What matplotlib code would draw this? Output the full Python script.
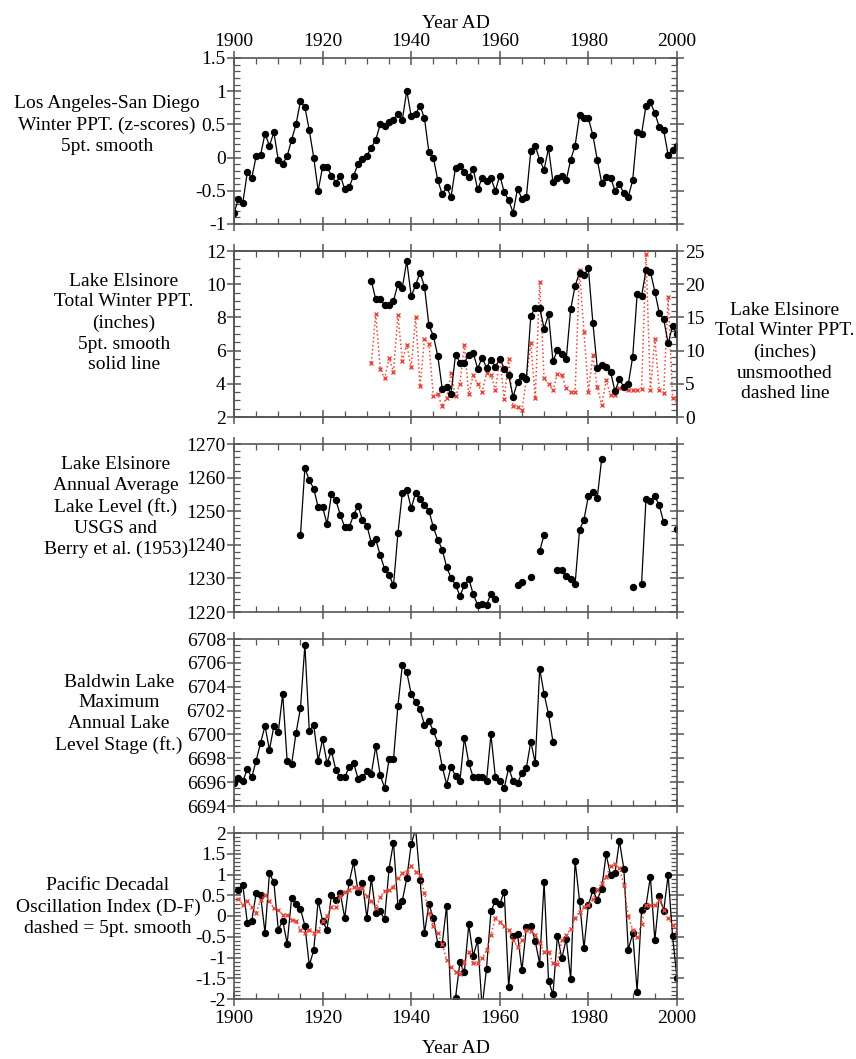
import numpy as np
import matplotlib
matplotlib.use("Agg")
import matplotlib.pyplot as plt
from matplotlib.ticker import MultipleLocator, FuncFormatter

plt.rcParams['font.family'] = ['Liberation Serif', 'DejaVu Serif']
plt.rcParams['axes.unicode_minus'] = False

# ---- data ----
years_la = np.arange(1900, 2001)
la_sd_z = [-0.84, -0.62, -0.68, -0.22, -0.31, 0.02, 0.04, 0.36, 0.18, 0.38,
           -0.04, -0.09, 0.02, 0.27, 0.5, 0.85, 0.76, 0.41, 0.0, -0.5,
           -0.14, -0.14, -0.27, -0.38, -0.27, -0.48, -0.45, -0.27, -0.1, -0.02,
           0.03, 0.15, 0.27, 0.5, 0.47, 0.53, 0.57, 0.66, 0.57, 1.01,
           0.62, 0.66, 0.78, 0.59, 0.08, 0.0, -0.34, -0.55, -0.45, -0.59,
           -0.15, -0.13, -0.22, -0.29, -0.17, -0.48, -0.31, -0.35, -0.31, -0.5,
           -0.27, -0.52, -0.64, -0.83, -0.47, -0.62, -0.59, 0.1, 0.18, -0.04,
           -0.18, 0.14, -0.37, -0.3, -0.28, -0.34, -0.03, 0.18, 0.64, 0.6,
           0.59, 0.34, -0.03, -0.38, -0.29, -0.3, -0.5, -0.4, -0.54, -0.59,
           -0.34, 0.39, 0.36, 0.78, 0.83, 0.67, 0.46, 0.41, 0.04, 0.11,
           0.18]

years_els = np.arange(1931, 2001)
els_smooth = [10.21, 9.08, 9.08, 8.74, 8.74, 9.0, 10.0, 9.79, 11.4, 9.28,
              9.95, 10.7, 9.85, 7.53, 6.89, 5.68, 3.71, 3.81, 3.41, 5.76,
              5.28, 5.28, 5.76, 5.86, 4.92, 5.56, 4.98, 5.46, 5.02, 5.52,
              4.92, 4.52, 3.21, 4.11, 4.47, 4.27, 8.1, 8.58, 8.58, 7.33,
              8.18, 5.36, 6.02, 5.82, 5.48, 8.5, 9.9, 10.7, 10.55, 10.95,
              7.69, 4.98, 5.12, 5.02, 4.72, 3.55, 4.27, 3.81, 3.97, 5.62,
              9.38, 9.28, 10.85, 10.75, 9.55, 8.28, 7.88, 6.43, 7.49, 6.97]
els_raw = [8.2, 15.5, 7.3, 5.8, 8.9, 6.8, 15.3, 8.5, 10.9, 7.5,
           15.1, 4.6, 11.8, 11.0, 3.1, 3.4, 1.6, 2.9, 6.6, 3.1,
           5.0, 10.9, 3.4, 6.4, 4.9, 3.8, 6.6, 6.4, 4.0, 8.8,
           2.7, 8.7, 1.7, 1.5, 1.0, 5.8, 11.1, 2.8, 20.4, 5.8,
           5.0, 4.0, 6.5, 6.3, 4.3, 3.8, 3.8, 22.1, 12.8, 3.8,
           9.3, 4.5, 1.8, 5.5, 3.3, 3.3, 4.3, 4.5, 4.0, 4.0,
           4.0, 4.2, 24.6, 4.0, 11.8, 4.0, 3.6, 18.1, 2.8, 2.5]

nan = np.nan
years_lvl = np.arange(1915, 2001)
els_level = [1242.9, 1262.8, 1259.2, 1256.7, 1251.2, 1251.2, 1246.2, 1255.0, 1253.2, 1248.9,
             1245.2, 1245.2, 1248.9, 1251.6, 1247.4, 1245.7, 1240.6, 1241.6, 1236.9, 1232.8,
             1231.1, 1227.9, 1243.4, 1255.5, 1256.4, 1250.9, 1255.4, 1253.5, 1251.7, 1250.2,
             1245.2, 1241.5, 1238.6, 1233.4, 1230.1, 1228.1, 1224.8, 1227.9, 1229.9, 1225.3,
             1222.1, 1222.4, 1222.1, 1225.4, 1223.9, nan, nan, nan, nan, 1227.9,
             1228.9, nan, 1230.4, nan, 1238.1, 1243.0, nan, nan, 1232.6, 1232.6,
             1230.8, 1229.8, 1228.4, 1244.4, 1247.5, 1254.5, 1255.7, 1254.0, 1265.6, nan,
             nan, nan, nan, nan, nan, 1227.4, nan, 1228.4, 1253.7, 1253.0,
             1254.4, 1251.7, 1246.7, nan, nan, 1244.7]

years_bal = np.arange(1900, 1973)
baldwin = [6695.94, 6696.36, 6696.08, 6697.1, 6696.4, 6697.8, 6699.3, 6700.7, 6698.7, 6700.7,
           6700.2, 6703.4, 6697.75, 6697.5, 6700.1, 6702.2, 6707.5, 6700.3, 6700.8, 6697.8,
           6699.6, 6697.6, 6698.6, 6697.0, 6696.4, 6696.4, 6697.3, 6697.6, 6696.3, 6696.4,
           6696.9, 6696.7, 6699.0, 6696.6, 6695.5, 6697.9, 6697.9, 6702.4, 6705.8, 6705.2,
           6703.4, 6702.7, 6702.1, 6700.8, 6701.1, 6700.3, 6699.3, 6697.3, 6695.8, 6697.3,
           6696.5, 6696.1, 6699.7, 6697.6, 6696.4, 6696.4, 6696.4, 6696.1, 6700.0, 6696.4,
           6696.1, 6695.5, 6697.2, 6696.1, 6695.9, 6696.8, 6697.2, 6699.4, 6697.6, 6705.5,
           6703.4, 6701.7, 6699.4]

years_pdo = np.arange(1901, 2001)
pdo = [0.62, 0.74, -0.16, -0.12, 0.55, 0.5, -0.41, 1.03, 0.81, -0.33,
       -0.11, -0.67, 0.43, 0.29, 0.17, -0.23, -1.19, -0.82, 0.37, -0.12,
       -0.33, 0.51, 0.39, 0.55, -0.05, 0.82, 1.29, 0.59, 0.79, -0.05,
       0.91, 0.07, 0.11, -0.08, 1.14, 1.77, 0.25, 0.37, 0.91, 1.73,
       2.1, 0.87, -0.41, 0.29, -0.05, -0.67, -0.67, 0.25, -2.1, -1.97,
       -1.12, -1.36, -0.2, -0.96, -0.59, -2.2, -1.27, 0.11, 0.37, 0.29,
       0.59, -1.72, -0.48, -0.44, -1.31, -0.27, -0.24, -0.61, -1.15, 0.82,
       -1.56, -1.89, -0.48, -1.02, -0.55, -1.52, 1.33, 0.37, -0.78, 0.27,
       0.62, 0.39, 0.66, 1.49, 0.99, 1.03, 1.81, 1.14, -0.82, -0.41,
       -1.82, 0.15, 0.25, 0.95, -0.59, 0.49, 0.13, 0.99, -0.49, -1.5]
pdo_smooth = [0.42, 0.27, 0.35, 0.21, 0.07, 0.39, 0.51, 0.35, 0.19, 0.15,
              0.03, 0.03, -0.09, -0.13, -0.33, -0.41, -0.33, -0.41, -0.37, -0.13,
              -0.01, 0.21, 0.21, 0.47, 0.59, 0.63, 0.71, 0.67, 0.67, 0.47,
              0.35, 0.19, 0.46, 0.61, 0.63, 0.71, 0.91, 1.03, 1.07, 1.2,
              1.07, 0.99, 0.55, 0.07, -0.25, -0.41, -0.67, -1.06, -1.22, -1.34,
              -1.39, -1.10, -0.86, -1.14, -1.14, -1.02, -0.82, -0.45, -0.05, -0.15,
              -0.25, -0.33, -0.57, -0.75, -0.57, -0.33, -0.35, -0.45, -0.65, -0.86,
              -0.86, -1.14, -1.15, -0.57, -0.45, -0.32, -0.05, 0.1, 0.21, 0.27,
              0.41, 0.63, 0.79, 0.95, 1.2, 1.25, 1.15, 0.75, -0.01, -0.33,
              -0.51, -0.19, 0.27, 0.27, 0.27, 0.39, 0.15, -0.05, -0.21, -0.4]

# ---- figure ----
W, H = 856, 1059
fig = plt.figure(figsize=(W / 100, H / 100), dpi=100)
FS = 14      # side labels
TS = 14      # tick labels
AXC = '#555555'
RED = '#e5483c'


def box(top, bottom):
    return [234 / W, 1 - bottom / H, 443 / W, (bottom - top) / H]


def fmt(v, pos):
    return '%g' % v


def style(ax, lo, hi, major, minor, right=True):
    ax.set_xlim(1900, 2000)
    ax.set_ylim(lo, hi)
    ax.xaxis.set_major_locator(MultipleLocator(20))
    ax.xaxis.set_minor_locator(MultipleLocator(5))
    ax.yaxis.set_major_locator(MultipleLocator(major))
    ax.yaxis.set_minor_locator(MultipleLocator(minor))
    ax.yaxis.set_major_formatter(FuncFormatter(fmt))
    ax.tick_params(which='major', direction='inout', length=10, width=1.1,
                   top=True, right=right, labelbottom=False, color=AXC,
                   labelsize=TS, pad=1)
    ax.tick_params(which='minor', direction='in', length=4, width=0.9,
                   top=True, right=right, color=AXC)
    ax.tick_params(axis='x', which='major', pad=1)
    for s in ax.spines.values():
        s.set_color(AXC)
        s.set_linewidth(1.2)


def black(ax, x, y):
    ax.plot(x, y, '-o', color='black', lw=0.9, ms=4.3)


def redline(ax, x, y):
    ax.plot(x, y, linestyle=':', marker='x', color=RED, lw=1.1, ms=3.5, mew=1.0)


def label(x, y, s):
    fig.text(x / W, 1 - y / H, s, ha='center', va='center', fontsize=FS,
             multialignment='center', linespacing=1.3)


# panel 1
ax1 = fig.add_axes(box(58, 224))
style(ax1, -1, 1.5, 0.5, 0.1)
black(ax1, years_la, la_sd_z)
ax1.tick_params(labeltop=True)
ax1.xaxis.set_label_position('top')
ax1.set_xlabel('Year AD', fontsize=TS, labelpad=3)
label(107, 125, 'Los Angeles-San Diego\nWinter PPT. (z-scores)\n5pt. smooth')

# panel 2
ax2 = fig.add_axes(box(251, 417))
style(ax2, 2, 12, 2, 0.5, right=False)
ax2r = ax2.twinx()
ax2r.set_ylim(0, 25)
ax2r.yaxis.set_major_locator(MultipleLocator(5))
ax2r.yaxis.set_minor_locator(MultipleLocator(1))
ax2r.tick_params(which='major', direction='inout', length=10, width=1.1,
                 color=AXC, labelsize=TS, pad=1)
ax2r.tick_params(which='minor', direction='in', length=4, width=0.9, color=AXC)
for s in ax2r.spines.values():
    s.set_color(AXC)
    s.set_linewidth(1.2)
redline(ax2r, years_els, els_raw)
ax2.set_zorder(ax2r.get_zorder() + 1)
ax2.patch.set_visible(False)
black(ax2, years_els, els_smooth)
label(124, 323, 'Lake Elsinore\nTotal Winter PPT.\n(inches)\n5pt. smooth\nsolid line')
label(785, 352, 'Lake Elsinore\nTotal Winter PPT.\n(inches)\nunsmoothed\ndashed line')

# panel 3
ax3 = fig.add_axes(box(444, 612))
style(ax3, 1220, 1270, 10, 2)
black(ax3, years_lvl, els_level)
label(116, 507, 'Lake Elsinore\nAnnual Average\nLake Level (ft.)\nUSGS and\nBerry et al. (1953)')

# panel 4
ax4 = fig.add_axes(box(639, 806))
style(ax4, 6694, 6708, 2, 0.5)
black(ax4, years_bal, baldwin)
label(119, 714, 'Baldwin Lake\nMaximum\nAnnual Lake\nLevel Stage (ft.)')

# panel 5
ax5 = fig.add_axes(box(833, 999))
style(ax5, -2, 2, 0.5, 0.1)
black(ax5, years_pdo, pdo)
redline(ax5, years_pdo, pdo_smooth)
ax5.tick_params(labelbottom=True)
ax5.tick_params(axis='x', which='major', pad=3)
ax5.set_xlabel('Year AD', fontsize=TS, labelpad=9)
label(108, 907, 'Pacific Decadal\nOscillation Index (D-F)\ndashed = 5pt. smooth')

fig.savefig('out.png', dpi=100)
